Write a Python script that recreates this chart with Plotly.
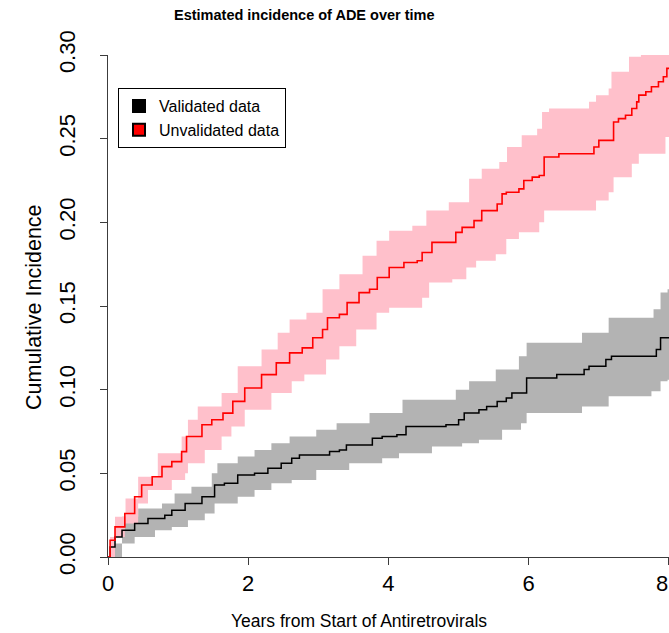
import plotly.graph_objects as go

# ---------------- data ----------------
red_t = [0, 0.03, 0.1, 0.24, 0.38, 0.48, 0.63, 0.77, 0.91, 1.05, 1.12, 1.34, 1.48, 1.64, 1.78,
         1.95, 2.19, 2.40, 2.59, 2.77, 2.92, 3.06, 3.13, 3.3, 3.41, 3.58, 3.73, 3.84, 4.01, 4.22,
         4.41, 4.48, 4.62, 4.96, 5.05, 5.22, 5.33, 5.55, 5.62, 5.68, 5.86, 5.93, 6.05, 6.15, 6.22,
         6.43, 6.93, 7.0, 7.21, 7.28, 7.38, 7.47, 7.54, 7.57, 7.67, 7.75, 7.85, 7.92, 7.97, 8.2]
red_v = [0, 0.010, 0.018, 0.026, 0.036, 0.043, 0.048, 0.054, 0.057, 0.063, 0.072, 0.079, 0.082,
         0.086, 0.093, 0.101, 0.109, 0.116, 0.122, 0.125, 0.131, 0.136, 0.143, 0.145, 0.152, 0.158,
         0.160, 0.167, 0.173, 0.176, 0.177, 0.182, 0.188, 0.194, 0.197, 0.201, 0.207, 0.211, 0.217,
         0.218, 0.220, 0.225, 0.227, 0.228, 0.239, 0.241, 0.245, 0.249, 0.260, 0.262, 0.264, 0.268,
         0.272, 0.276, 0.278, 0.281, 0.284, 0.287, 0.292, 0.292]

red_up_t = [0, 0.03, 0.1, 0.25, 0.43, 0.71, 1.05, 1.14, 1.28, 1.62, 1.85, 2.19, 2.42, 2.59, 2.83,
            3.06, 3.3, 3.63, 3.83, 4.01, 4.34, 4.54, 4.86, 5.15, 5.33, 5.58, 5.69, 5.9, 6.12, 6.19,
            6.29, 6.86, 6.96, 7.14, 7.18, 7.43, 7.6, 8.2]
red_up_v = [0, 0.012, 0.024, 0.035, 0.048, 0.062, 0.072, 0.082, 0.090, 0.098, 0.114, 0.124, 0.134,
            0.142, 0.146, 0.160, 0.169, 0.180, 0.189, 0.195, 0.198, 0.207, 0.212, 0.226, 0.232,
            0.236, 0.245, 0.252, 0.256, 0.266, 0.268, 0.272, 0.276, 0.280, 0.290, 0.299, 0.31, 0.32]

red_lo_t = [0, 0.1, 0.24, 0.43, 0.57, 0.91, 1.1, 1.14, 1.38, 1.62, 1.76, 1.95, 2.33, 2.62, 2.8,
            3.11, 3.3, 3.54, 3.83, 4.01, 4.48, 4.58, 4.91, 5.11, 5.25, 5.53, 5.68, 5.86, 6.15, 6.22,
            6.96, 7.14, 7.21, 7.47, 7.57, 7.95, 8.2]
red_lo_v = [0, 0.012, 0.020, 0.032, 0.040, 0.046, 0.050, 0.056, 0.064, 0.072, 0.078, 0.088, 0.098,
            0.105, 0.109, 0.118, 0.126, 0.136, 0.146, 0.149, 0.155, 0.164, 0.166, 0.173, 0.177,
            0.181, 0.190, 0.194, 0.200, 0.207, 0.213, 0.218, 0.227, 0.235, 0.241, 0.251, 0.251]

blk_t = [0, 0.03, 0.1, 0.2, 0.38, 0.57, 0.81, 0.91, 1.1, 1.34, 1.52, 1.66, 1.85, 2.09, 2.28, 2.47,
         2.62, 2.73, 3.16, 3.3, 3.4, 3.77, 3.91, 4.12, 4.25, 4.82, 5.0, 5.08, 5.29, 5.4, 5.55, 5.68,
         5.76, 5.97, 6.4, 6.79, 6.86, 7.1, 7.18, 7.82, 7.88, 8.2]
blk_v = [0, 0.006, 0.012, 0.016, 0.020, 0.023, 0.025, 0.028, 0.032, 0.036, 0.043, 0.044, 0.049,
         0.050, 0.053, 0.056, 0.059, 0.061, 0.063, 0.064, 0.067, 0.071, 0.072, 0.073, 0.078, 0.079,
         0.082, 0.086, 0.088, 0.090, 0.093, 0.095, 0.098, 0.107, 0.109, 0.112, 0.114, 0.118, 0.120,
         0.124, 0.131, 0.131]

blk_up_t = [0, 0.06, 0.2, 0.43, 0.77, 0.95, 1.19, 1.48, 1.56, 1.85, 2.09, 2.33, 2.59, 2.97, 3.26,
            3.73, 4.2, 4.96, 5.15, 5.53, 5.86, 5.97, 6.76, 7.14, 7.78, 7.88, 7.98, 8.2]
blk_up_v = [0, 0.008, 0.024, 0.029, 0.032, 0.038, 0.042, 0.050, 0.056, 0.060, 0.064, 0.068, 0.072,
            0.076, 0.080, 0.086, 0.094, 0.100, 0.105, 0.112, 0.120, 0.128, 0.134, 0.143, 0.148,
            0.158, 0.160, 0.160]

blk_lo_t = [0, 0.2, 0.38, 0.67, 0.91, 1.14, 1.38, 1.52, 1.85, 2.09, 2.33, 2.62, 2.97, 3.44, 3.91,
            4.15, 4.62, 5.05, 5.29, 5.62, 5.89, 5.97, 6.76, 7.14, 7.75, 7.88, 7.98, 8.2]
blk_lo_v = [0, 0.008, 0.012, 0.016, 0.018, 0.022, 0.026, 0.032, 0.036, 0.040, 0.044, 0.046, 0.052,
            0.056, 0.059, 0.062, 0.066, 0.068, 0.070, 0.076, 0.080, 0.086, 0.090, 0.096, 0.099,
            0.105, 0.106, 0.106]

x_ticks = [0, 2, 4, 6, 8]
y_ticks = [0.00, 0.05, 0.10, 0.15, 0.20, 0.25, 0.30]
legend_names = ["Validated data", "Unvalidated data"]

# ---------------- figure ----------------
W, H = 669, 633
ML, MR, MT, MB = 108, 0, 55, 76
PW, PH = W - ML - MR, H - MT - MB

GRAY = "#B3B3B3"
PINK = "#FFC0CB"
AX = "#3c3c3c"
FONT = "Liberation Sans, Arial, sans-serif"

fig = go.Figure()

# gray band
fig.add_trace(go.Scatter(x=blk_lo_t, y=blk_lo_v, mode="lines", line=dict(width=0, shape="hv", color=GRAY),
                         showlegend=False, hoverinfo="skip"))
fig.add_trace(go.Scatter(x=blk_up_t, y=blk_up_v, mode="lines", line=dict(width=0, shape="hv", color=GRAY),
                         fill="tonexty", fillcolor=GRAY, showlegend=False, hoverinfo="skip"))
# pink band
fig.add_trace(go.Scatter(x=red_lo_t, y=red_lo_v, mode="lines", line=dict(width=0, shape="hv", color=PINK),
                         showlegend=False, hoverinfo="skip"))
fig.add_trace(go.Scatter(x=red_up_t, y=red_up_v, mode="lines", line=dict(width=0, shape="hv", color=PINK),
                         fill="tonexty", fillcolor=PINK, showlegend=False, hoverinfo="skip"))
# estimate lines
fig.add_trace(go.Scatter(x=blk_t, y=blk_v, mode="lines", line=dict(width=1.5, shape="hv", color="black"),
                         showlegend=False))
fig.add_trace(go.Scatter(x=red_t, y=red_v, mode="lines", line=dict(width=1.6, shape="hv", color="#FF0000"),
                         showlegend=False))

# legend entries
for name, col in zip(legend_names, ["black", "#FF0000"]):
    fig.add_trace(go.Scatter(x=[None], y=[None], mode="markers", name=name,
                             marker=dict(symbol="square", size=10, color=col,
                                         line=dict(color="black", width=1))))

# the last x tick label sits on the right edge: keep it fully visible
x_ticktext = [str(v) if v != x_ticks[-1] else "" for v in x_ticks]

fig.update_layout(
    width=W, height=H,
    margin=dict(l=ML, r=MR, t=MT, b=MB, autoexpand=False),
    paper_bgcolor="white", plot_bgcolor="white",
    font=dict(family=FONT, color="black"),
    showlegend=True,
    legend=dict(x=(118 - ML) / PW, y=(MT + PH - 88) / PH, xanchor="left", yanchor="top",
                bgcolor="white", bordercolor="black", borderwidth=1, traceorder="normal",
                font=dict(size=16, family=FONT), tracegroupgap=0, itemsizing="constant"),
    xaxis=dict(range=[0, 8.0005], tickvals=x_ticks, ticktext=x_ticktext,
               showgrid=False, zeroline=False, showline=True, linecolor=AX, linewidth=1,
               ticks="outside", ticklen=7, tickcolor=AX, tickwidth=1,
               automargin=False,
               tickfont=dict(size=22, family=FONT, color="black")),
    yaxis=dict(range=[0, 0.30], tickvals=y_ticks, ticktext=["%.2f" % v for v in y_ticks],
               showgrid=False, zeroline=False, showline=True, linecolor=AX, linewidth=1,
               ticks="outside", ticklen=7, tickcolor=AX, tickwidth=1, tickangle=-90,
               ticklabelstandoff=16, automargin=False,
               tickfont=dict(size=22, family=FONT, color="black")),
    annotations=[
        dict(text=str(x_ticks[-1]), xref="x", yref="paper", x=x_ticks[-1],
             y=(MT + PH - 583) / PH, xanchor="right", yanchor="middle", showarrow=False,
             borderpad=0, font=dict(size=22, family=FONT, color="black")),
        dict(text="<b>Estimated incidence of ADE over time</b>", xref="paper", yref="paper",
             x=(304 - ML) / PW, y=(MT + PH - 15) / PH, xanchor="center", yanchor="middle",
             showarrow=False, font=dict(size=14.5, family=FONT)),
        dict(text="Years from Start of Antiretrovirals", xref="paper", yref="paper",
             x=(359 - ML) / PW, y=(MT + PH - 621) / PH, xanchor="center", yanchor="middle",
             showarrow=False, font=dict(size=17.5, family=FONT)),
        dict(text="Cumulative Incidence", xref="paper", yref="paper", textangle=-90,
             x=(34 - ML) / PW, y=(MT + PH - 307) / PH, xanchor="center", yanchor="middle",
             showarrow=False, font=dict(size=21.5, family=FONT)),
    ],
)

fig.write_html("out.html")
